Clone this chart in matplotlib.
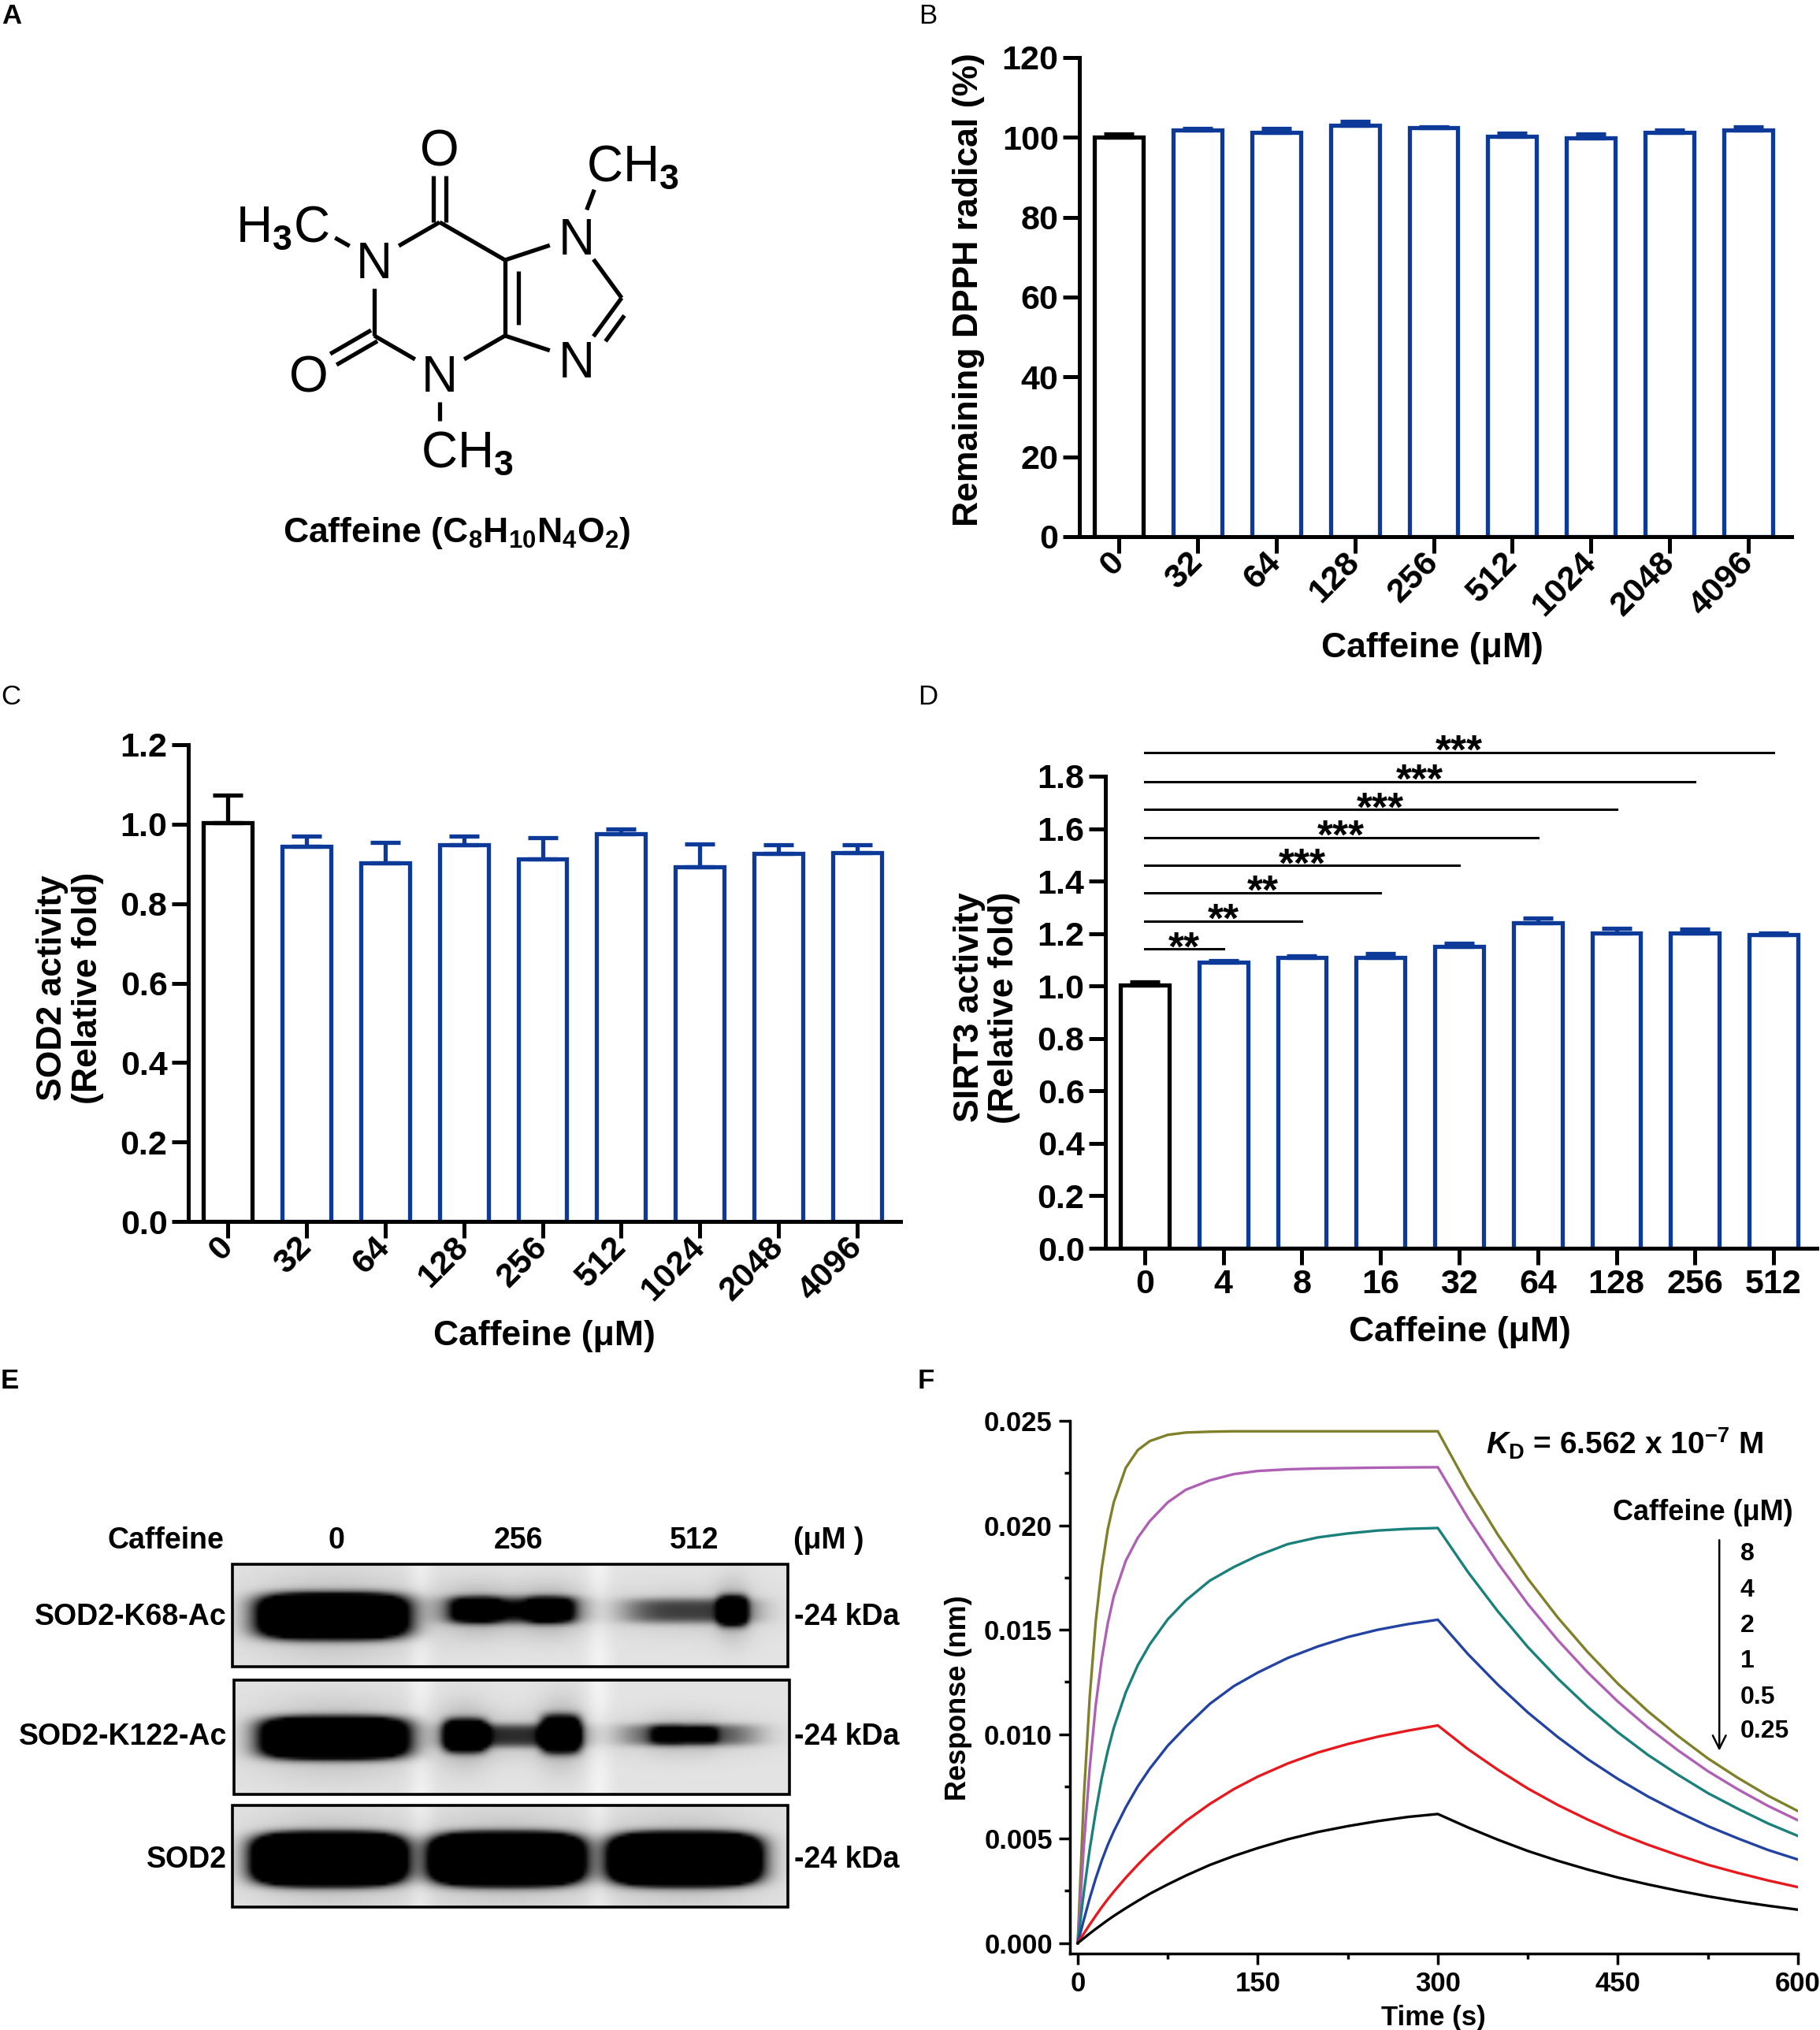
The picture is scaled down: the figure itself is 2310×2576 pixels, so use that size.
import numpy as np
import matplotlib.pyplot as plt
from matplotlib.ticker import MultipleLocator, FormatStrFormatter

plt.rcParams['font.family'] = ['Liberation Sans', 'DejaVu Sans']
plt.rcParams['font.weight'] = 'bold'
plt.rcParams['axes.labelweight'] = 'bold'
plt.rcParams['mathtext.fontset'] = 'custom'
plt.rcParams['mathtext.rm'] = 'Liberation Sans:bold'
plt.rcParams['mathtext.it'] = 'Liberation Sans:italic:bold'
plt.rcParams['mathtext.bf'] = 'Liberation Sans:bold'
plt.rcParams['mathtext.sf'] = 'Liberation Sans'
plt.rcParams['axes.linewidth'] = 3.6

BLUE = '#0d3a98'

# ---- data ----
# B: DPPH scavenging
dpph_doses = ['0', '32', '64', '128', '256', '512', '1024', '2048', '4096']
dpph_mean = [100.1, 101.8, 101.3, 103.1, 102.4, 100.2, 99.9, 101.3, 101.9]
dpph_err = [0.8, 0.4, 1.0, 1.0, 0.3, 0.9, 1.0, 0.6, 0.7]

# C: SOD2 activity
sod2_doses = ['0', '32', '64', '128', '256', '512', '1024', '2048', '4096']
sod2_mean = [1.004, 0.945, 0.903, 0.948, 0.912, 0.976, 0.893, 0.927, 0.928]
sod2_err = [0.069, 0.025, 0.051, 0.022, 0.053, 0.011, 0.058, 0.021, 0.020]

# D: SIRT3 activity
sirt3_doses = ['0', '4', '8', '16', '32', '64', '128', '256', '512']
sirt3_mean = [1.004, 1.091, 1.108, 1.109, 1.152, 1.241, 1.203, 1.202, 1.195]
sirt3_err = [0.011, 0.005, 0.006, 0.015, 0.012, 0.018, 0.017, 0.014, 0.007]
sig_end = [1, 2, 3, 4, 5, 6, 7, 8]
sig_y = [1.141, 1.248, 1.355, 1.459, 1.566, 1.673, 1.780, 1.891]
sig_txt = ['**', '**', '**', '***', '***', '***', '***', '***']

# E: western blot
blot_rows = ['SOD2-K68-Ac', 'SOD2-K122-Ac', 'SOD2']
blot_lanes = ['0', '256', '512']
band_strength = [[3.0, 0.8, 0.6], [3.0, 0.65, 0.55], [5.0, 5.0, 5.0]]

# F: BLI sensorgram (response x 1e-3 nm)
t_sec = [0, 5, 10, 15, 20, 25, 30, 40, 50, 60, 75, 90, 110, 130, 150, 175, 200, 225, 250, 275, 300,
         325, 350, 375, 400, 425, 450, 475, 500, 525, 550, 575, 600]
resp_8 = [0, 6.9, 11.8, 15.4, 17.95, 19.8, 21.1, 22.75, 23.6, 24.03, 24.33, 24.44, 24.48, 24.5, 24.5,
          24.5, 24.5, 24.5, 24.5, 24.5, 24.5,
          21.88, 19.55, 17.44, 15.58, 13.92, 12.42, 11.10, 9.92, 8.84, 7.91, 7.06, 6.32]
resp_4 = [0, 4.6, 8.4, 11.4, 13.6, 15.3, 16.6, 18.3, 19.4, 20.2, 21.1, 21.7, 22.15, 22.45, 22.6,
          22.68, 22.72, 22.74, 22.76, 22.77, 22.78,
          20.36, 18.19, 16.23, 14.50, 12.95, 11.56, 10.33, 9.23, 8.23, 7.36, 6.57, 5.88]
resp_2 = [0, 2.4, 4.5, 6.3, 7.9, 9.2, 10.3, 12.0, 13.3, 14.3, 15.5, 16.4, 17.35, 18.0, 18.55,
          19.1, 19.42, 19.61, 19.75, 19.83, 19.87,
          17.77, 15.88, 14.17, 12.66, 11.30, 10.09, 9.01, 8.06, 7.18, 6.43, 5.73, 5.13]
resp_1 = [0, 1.1, 2.15, 3.1, 3.95, 4.7, 5.35, 6.5, 7.5, 8.35, 9.45, 10.35, 11.45, 12.3, 12.95,
          13.65, 14.2, 14.65, 15.0, 15.27, 15.48,
          13.84, 12.37, 11.04, 9.86, 8.80, 7.86, 7.02, 6.28, 5.60, 5.01, 4.46, 4.00]
resp_05 = [0, 0.45, 0.89, 1.31, 1.72, 2.10, 2.46, 3.13, 3.75, 4.33, 5.12, 5.84, 6.66, 7.37, 7.97,
           8.60, 9.12, 9.53, 9.88, 10.17, 10.42,
           9.29, 8.30, 7.40, 6.61, 5.91, 5.27, 4.71, 4.21, 3.75, 3.36, 3.00, 2.68]
resp_025 = [0, 0.23, 0.46, 0.68, 0.89, 1.10, 1.30, 1.67, 2.02, 2.36, 2.81, 3.23, 3.74, 4.17, 4.55,
            4.97, 5.32, 5.60, 5.84, 6.04, 6.18,
            5.54, 4.95, 4.41, 3.94, 3.52, 3.14, 2.81, 2.51, 2.24, 2.00, 1.79, 1.60]
conc_labels = ['8', '4', '2', '1', '0.5', '0.25']
curve_colors = ['#80802a', '#b060b4', '#1a807a', '#2343a3', '#e8191e', 'black']

# ---- figure ----
W, H = 2310, 2576
fig = plt.figure(figsize=(W / 100, H / 100), dpi=100)


def place(l, t, r, b):
    return fig.add_axes([l / W, 1 - b / H, (r - l) / W, (b - t) / H])


ov = fig.add_axes([0, 0, 1, 1])
ov.axis('off')

# panel letters
for s, x, y, w in [('A', 15, 20, 'bold'), ('B', 1178, 20, 'normal'), ('C', 14, 884, 'normal'),
                   ('D', 1178, 884, 'normal'), ('E', 12, 1752, 'bold'), ('F', 1175, 1752, 'bold')]:
    ov.text(x, y, s, fontsize=25, weight=w, ha='center', va='center')

# ---- A: caffeine structure ----
atoms = {'N1': (475, 330), 'C2': (475, 426), 'N3': (558, 474), 'C4': (641, 426), 'C5': (641, 330),
         'C6': (558, 282), 'N7': (732, 300), 'C8': (789, 378), 'N9': (732, 456),
         'O6': (558, 187), 'O2': (392, 474), 'M1': (394, 284), 'M3': (558, 570), 'M7': (767, 207)}
labelled = {'N1', 'N3', 'N7', 'N9', 'O6', 'O2', 'M1', 'M3', 'M7'}
LW = 3.8


def seg(a, b, off=0.0, trim_a=None, trim_b=None):
    p = np.array(atoms[a], float)
    q = np.array(atoms[b], float)
    d = (q - p) / np.hypot(*(q - p))
    n = np.array([-d[1], d[0]])
    ta = (36 if a in labelled else 0) if trim_a is None else trim_a
    tb = (36 if b in labelled else 0) if trim_b is None else trim_b
    p2 = p + d * ta + n * off
    q2 = q - d * tb + n * off
    ov.plot([p2[0], q2[0]], [p2[1], q2[1]], color='black', lw=LW, solid_capstyle='butt')


for a, b in [('N1', 'C2'), ('C2', 'N3'), ('N3', 'C4'), ('C4', 'C5'), ('C5', 'C6'), ('C6', 'N1'),
             ('C5', 'N7'), ('N7', 'C8'), ('C8', 'N9'), ('N9', 'C4'),
             ('N1', 'M1'), ('N3', 'M3'), ('N7', 'M7')]:
    seg(a, b)
seg('C6', 'O6', off=8)
seg('C6', 'O6', off=-8)
seg('C2', 'O2', off=8)
seg('C2', 'O2', off=-8)
seg('C4', 'C5', off=17, trim_a=14, trim_b=14)
seg('C8', 'N9', off=-16, trim_a=16, trim_b=40)

AT = 46
for k in ['N1', 'N3', 'N7', 'N9', 'O6', 'O2']:
    x, y = atoms[k]
    ov.text(x, y + 23, k[0], fontsize=AT, weight='normal', ha='center', va='baseline')
ov.text(418, atoms['M1'][1] + 23, r'H$_\mathsf{3}$C', fontsize=AT, weight='normal', ha='right', va='baseline')
ov.text(534, atoms['M3'][1] + 23, r'CH$_\mathsf{3}$', fontsize=AT, weight='normal', ha='left', va='baseline')
ov.text(744, atoms['M7'][1] + 23, r'CH$_\mathsf{3}$', fontsize=AT, weight='normal', ha='left', va='baseline')
ov.text(580, 676, r'Caffeine (C$_8$H$_{10}$N$_4$O$_2$)', fontsize=32, ha='center', va='center')


# ---- bar panels B, C, D ----
def bar_panel(ax, labels, mean, err, top, step, fmt, rot):
    x = np.arange(len(mean))
    cols = ['black'] + [BLUE] * (len(mean) - 1)
    ax.bar(x, mean, width=0.62, color='white', edgecolor=cols, linewidth=3.8, zorder=2)
    for xi, m, e, c in zip(x, mean, err, cols):
        ax.errorbar(xi, m, yerr=[[0], [e]], color=c, elinewidth=3.8, capsize=14, capthick=3.8, zorder=3)
    ax.set_xlim(-0.5, len(mean) - 0.45)
    ax.set_ylim(0, top)
    ax.yaxis.set_major_locator(MultipleLocator(step))
    ax.yaxis.set_major_formatter(FormatStrFormatter(fmt))
    ax.set_xticks(x)
    if rot:
        ax.set_xticklabels(labels, rotation=45, ha='right', va='center', rotation_mode='anchor')
    else:
        ax.set_xticklabels(labels)
    for s in ['top', 'right']:
        ax.spines[s].set_visible(False)
    ax.tick_params(length=15, width=3.6, labelsize=31, pad=4)


axb = place(1370, 73, 2274, 681)
bar_panel(axb, dpph_doses, dpph_mean, dpph_err, 120, 20, '%d', True)
axb.set_ylabel('Remaining DPPH radical (%)', fontsize=32, va='center')
axb.yaxis.set_label_coords(-0.155, 0.516)
axb.set_xlabel('Caffeine (μM)', fontsize=32, va='center')
axb.xaxis.set_label_coords(0.496, -0.232)

axc = place(239, 945, 1143, 1550)
bar_panel(axc, sod2_doses, sod2_mean, sod2_err, 1.2, 0.2, '%.1f', True)
axc.set_ylabel('SOD2 activity\n(Relative fold)', fontsize=32, va='center', linespacing=1.1)
axc.yaxis.set_label_coords(-0.166, 0.49)
axc.set_xlabel('Caffeine (μM)', fontsize=32, va='center')
axc.xaxis.set_label_coords(0.5, -0.241)

axd = place(1403, 985, 2306, 1584)
bar_panel(axd, sirt3_doses, sirt3_mean, sirt3_err, 1.8, 0.2, '%.1f', False)
axd.set_ylabel('SIRT3 activity\n(Relative fold)', fontsize=32, va='center', linespacing=1.1)
axd.yaxis.set_label_coords(-0.167, 0.51)
axd.set_xlabel('Caffeine (μM)', fontsize=32, va='center')
axd.xaxis.set_label_coords(0.498, -0.177)
for k, yl, s in zip(sig_end, sig_y, sig_txt):
    axd.plot([0, k], [yl, yl], color='black', lw=2.2, clip_on=False)
    axd.annotate(s, xy=(k / 2, yl), xytext=(0, -10), textcoords='offset points', ha='center',
                 va='baseline', fontsize=37, annotation_clip=False)

# ---- E: western blot ----
boxes = [(295, 1985, 1000, 2115), (297, 2132, 1002, 2277), (295, 2291, 1000, 2420)]
row_y = [2052, 2204, 2360]
gaps = [533, 760]
blobs = [
    [(421, 2050, 90, 27, band_strength[0][0]), (648, 2042, 86, 17, band_strength[0][1]),
     (602, 2042, 32, 17, 0.6), (700, 2042, 30, 17, 0.7),
     (876, 2043, 84, 16, band_strength[0][2]), (931, 2043, 19, 20, 1.2)],
    [(423, 2205, 88, 25, band_strength[1][0]), (650, 2202, 86, 15, band_strength[1][1]),
     (590, 2202, 27, 21, 1.6), (712, 2200, 25, 24, 1.6),
     (876, 2201, 86, 14, band_strength[1][2]), (850, 2201, 25, 13, 0.5), (893, 2201, 20, 12, 0.45)],
    [(416, 2359, 86, 30, band_strength[2][0]), (643, 2359, 86, 30, band_strength[2][1]),
     (870, 2359, 85, 30, band_strength[2][2])],
]
for (l, t, r, b), bl in zip(boxes, blobs):
    xs = np.arange(l, r, 4.0)
    ys = np.arange(t, b, 4.0)
    X, Y = np.meshgrid(xs, ys)
    bg = 0.89 + sum(0.06 * np.exp(-((X - g) / 16.0) ** 2) for g in gaps)
    d = np.zeros_like(X)
    for cx, cy, hw, hh, s in bl:
        u = np.abs(X - cx) / hw
        v = np.abs(Y - cy) / hh
        d += s * np.exp(-(u ** 4 + v ** 4))
        d += 0.22 * min(s, 1.0) * np.exp(-((u / 1.15) ** 2 + (v / 1.9) ** 2))
    img = bg * (1 - np.clip(d, 0, 1))
    ov.imshow(img, cmap='gray', vmin=0, vmax=1, extent=(l, r, b, t), interpolation='bilinear',
              aspect='auto', zorder=1)
    ov.add_patch(plt.Rectangle((l, t), r - l, b - t, fill=False, lw=2.6, ec='black', zorder=2))

for name, y in zip(blot_rows, row_y):
    ov.text(288, y, name, fontsize=27, ha='right', va='center')
    ov.text(1008, y, '-24 kDa', fontsize=27, ha='left', va='center')
ov.text(210, 1955, 'Caffeine', fontsize=27, ha='center', va='center')
for lab, x in zip(blot_lanes, [427, 658, 881]):
    ov.text(x, 1955, lab, fontsize=27, ha='center', va='center')
ov.text(1052, 1955, '(μM )', fontsize=27, ha='center', va='center')

# ---- F: sensorgram ----
axf = place(1358, 1803, 2282, 2479)
for ys, col in zip([resp_8, resp_4, resp_2, resp_1, resp_05, resp_025], curve_colors):
    axf.plot(t_sec, np.array(ys) / 1000.0, color=col, lw=2.4)
axf.set_xlim(-6.5, 600)
axf.set_ylim(-0.0005, 0.025)
axf.xaxis.set_major_locator(MultipleLocator(150))
axf.xaxis.set_minor_locator(MultipleLocator(75))
axf.yaxis.set_major_locator(MultipleLocator(0.005))
axf.yaxis.set_minor_locator(MultipleLocator(0.0025))
axf.yaxis.set_major_formatter(FormatStrFormatter('%.3f'))
for s in ['top', 'right']:
    axf.spines[s].set_visible(False)
for s in ['left', 'bottom']:
    axf.spines[s].set_linewidth(2.5)
axf.tick_params(which='major', length=10, width=2.5, labelsize=25, pad=6)
axf.tick_params(which='minor', length=5, width=2.5)
axf.set_ylabel('Response (nm)', fontsize=26, va='center')
axf.yaxis.set_label_coords(-0.153, 0.48)
axf.set_xlabel('Time (s)', fontsize=25, va='center')
axf.xaxis.set_label_coords(0.499, -0.12)
axf.text(340, 0.0239, r'$K_\mathrm{D}$ = 6.562 x 10$^{\mathrm{-7}}$ M', fontsize=28, ha='left', va='center')
axf.text(521, 0.0206, 'Caffeine (μM)', fontsize=26, ha='center', va='center')
for lab, y in zip(conc_labels, [0.01863, 0.01689, 0.0152, 0.0135, 0.01176, 0.01014]):
    axf.text(552, y, lab, fontsize=23, ha='left', va='center')
axf.annotate('', xy=(534.5, 0.0091), xytext=(534.5, 0.0194),
             arrowprops=dict(arrowstyle='->', lw=1.8, color='black', mutation_scale=30))

ov.set_xlim(0, W)
ov.set_ylim(H, 0)

fig.savefig('out.png', dpi=100)
